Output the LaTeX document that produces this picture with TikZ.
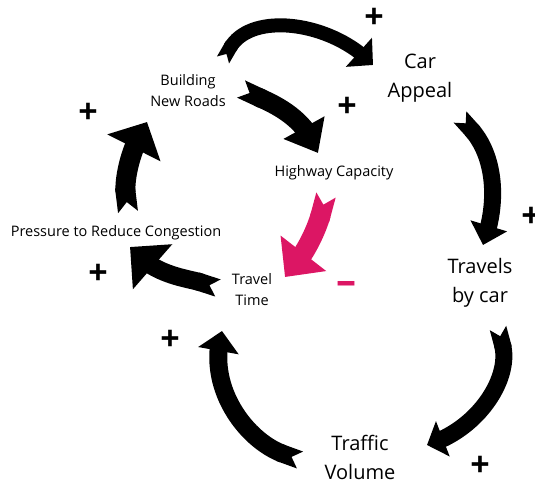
\documentclass[tikz,border=0pt]{standalone}
\usepackage{fontspec}
\setmainfont{Open Sans}
\usetikzlibrary{arrows.meta,bending}
\definecolor{loopred}{RGB}{220,22,100}
\tikzset{
	causal/.style n args={3}{line width=#1,{Triangle Cap[reversed,quick]}-{Triangle[width=#2,length=#3]}},
	small/.style={align=center,font=\fontsize{14.5}{21}\selectfont},
	big/.style={align=center,font=\fontsize{20}{29}\selectfont},
	sgn/.style={font=\bfseries\fontsize{34}{34}\selectfont,inner sep=0pt}
}
\begin{document}
\begin{tikzpicture}[x=1pt,y=1pt]
		\useasboundingbox (0,0) rectangle (535,483);
		% variables
		\node[small] (build) at (188,392) {Building\\New Roads};
		\node[big] (appeal) at (420,405) {Car\\Appeal};
		\node[small] (hwy) at (334,310) {Highway Capacity};
		\node[small] (press) at (116,250) {Pressure to Reduce Congestion};
		\node[small] (travel) at (252,193) {Travel\\Time};
		\node[big] (travels) at (480,200) {Travels\\by car};
		\node[big] (traffic) at (360,26) {Traffic\\Volume};
		% links
		\draw[causal={14pt}{38pt}{19pt}] ([shift={(35,31)}]build.center) to[out=60,in=133] ([shift={(-47,13)}]appeal.center);
		\draw[causal={19pt}{45pt}{29pt}] ([shift={(53,2)}]build.center) to[out=-25,in=110] ([shift={(-16,20)}]hwy.center);
		\draw[causal={20pt}{58pt}{29pt}] ([shift={(12,21)}]press.center) to[out=97,in=239] ([shift={(-41,-31)}]build.center);
		\draw[causal={18pt}{58pt}{30pt}] ([shift={(-34,2)}]travel.center) to[out=162,in=-50] ([shift={(14,-14)}]press.center);
		\draw[causal={18pt}{40pt}{20pt}] ([shift={(-60,-3)}]traffic.center) to[out=160,in=254] ([shift={(-30,-41)}]travel.center);
		\draw[causal={17pt}{37pt}{20pt}] ([shift={(40,-39)}]appeal.center) to[out=-48,in=70] ([shift={(3,38)}]travels.center);
		\draw[causal={17pt}{37pt}{17pt}] ([shift={(18,-45)}]travels.center) to[out=-75,in=17] ([shift={(67,12)}]traffic.center);
		\draw[causal={20pt}{56pt}{30pt},loopred] ([shift={(-8,-22)}]hwy.center) to[out=255,in=48] ([shift={(33,13)}]travel.center);
		% polarities
		\node[sgn] (p1) at (374,465) {+};
		\node[sgn] (p2) at (347,376) {+};
		\node[sgn] (p3) at (88,370) {+};
		\node[sgn] (p4) at (531,266) {+};
		\node[sgn] (p5) at (98,209) {+};
		\node[sgn] (p6) at (170,143) {+};
		\node[sgn] (p7) at (480,17) {+};
		\node[sgn,loopred,font=\bfseries\fontsize{40}{40}\selectfont] (m1) at (346,195) {–};
	\end{tikzpicture}
\end{document}
